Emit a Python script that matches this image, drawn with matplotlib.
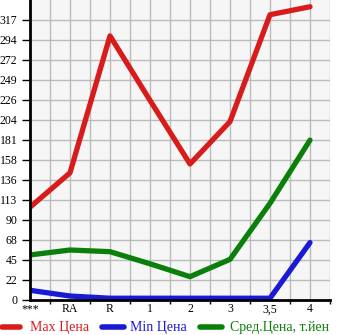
import matplotlib.pyplot as plt
from matplotlib.lines import Line2D
import numpy as np

# категории и значения (тыс. иен)
categories = ["***", "RA", "R", "1", "2", "3", "3,5", "4"]
max_price = [105, 144, 299, 226, 154, 202, 323, 332]
min_price = [11, 4.5, 2, 2, 2, 2, 2, 65]
avg_price = [51, 56.6, 54.7, 41, 26.4, 46, 109.5, 181]
ytick_labels = ["0", "22", "45", "68", "90", "113", "136", "158", "181",
                "204", "226", "249", "272", "294", "317"]
legend_labels = ['Max Цена', 'Min Цена', 'Сред.Цена, т.йен']
colors = ['#d81c1c', '#1a1ad6', '#0a800a']

plt.rcParams['font.family'] = ['Liberation Serif', 'DejaVu Serif']

fig = plt.figure(figsize=(3.45, 3.35), dpi=100)
ax = fig.add_axes([30 / 345, 35 / 335, 300 / 345, 300 / 335])
ax.set_facecolor('#f6f6f6')

x = np.arange(len(categories))
step = 317 / 14
ax.set_xlim(0, 7.5)
ax.set_ylim(0, step * 15)

for vals, c in zip([max_price, min_price, avg_price], colors):
    ax.plot(x, vals, color=c, lw=3.8, solid_capstyle='round',
            solid_joinstyle='round', zorder=3)

# сетка
ax.set_yticks(np.arange(15) * step)
ax.set_yticklabels(ytick_labels)
ax.set_xticks(x)
ax.set_xticklabels(categories)
ax.set_xticks(np.arange(0.5, 7.6, 1.0), minor=True)
for v in np.arange(0, 7.6, 0.5):
    ax.axvline(v, color='#bbbbbb', lw=1, zorder=1)
for v in np.arange(1, 15) * step:
    ax.axhline(v, color='#bbbbbb', lw=1, zorder=1)

ax.tick_params(axis='y', length=6, width=1, pad=3, labelsize=8.5)
ax.tick_params(axis='x', which='major', length=0, pad=2.5, labelsize=8.5)
ax.tick_params(axis='x', which='minor', length=3, width=1)

for s in ['top', 'right']:
    ax.spines[s].set_visible(False)
for s in ['left', 'bottom']:
    ax.spines[s].set_linewidth(2)
    ax.spines[s].set_zorder(4)

# легенда внизу
leg_x = [(2, 20, 30), (102, 124, 130), (200, 222, 230)]
yy = (335 - 327) / 335
for (h0, h1, t0), lab, c in zip(leg_x, legend_labels, colors):
    fig.add_artist(Line2D([h0 / 345, h1 / 345], [yy, yy], color=c, lw=4,
                          solid_capstyle='round', transform=fig.transFigure))
    fig.text(t0 / 345, yy, lab, color=c, fontsize=10, va='center', ha='left')

fig.savefig('out.png', dpi=100, facecolor='white')
